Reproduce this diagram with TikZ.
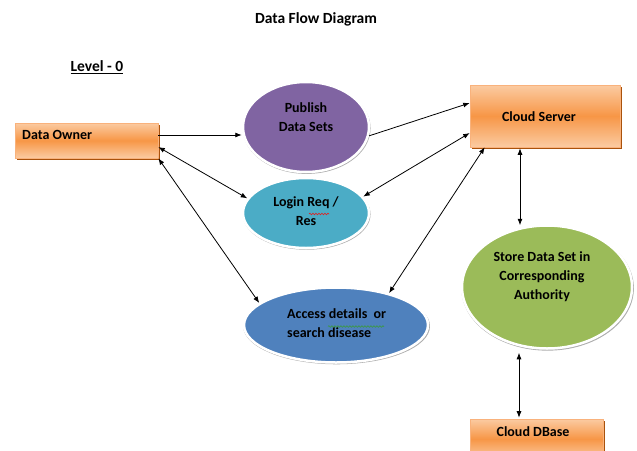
\documentclass[tikz,border=0pt]{standalone}
\usepackage{fontspec}
\setmainfont{Carlito}
\usetikzlibrary{shapes.geometric,shadows,arrows.meta,decorations.pathmorphing}

\definecolor{boxmid}{HTML}{F79646}
\definecolor{boxlight}{HTML}{FBCBA2}
\definecolor{boxedge}{HTML}{F9B27C}
\definecolor{boxshadow}{HTML}{A9520C}
\definecolor{purplefill}{HTML}{8064A2}
\definecolor{aquafill}{HTML}{4BACC6}
\definecolor{bluefill}{HTML}{4F81BD}
\definecolor{greenfill}{HTML}{9BBB59}
\definecolor{spellred}{HTML}{E02020}
\definecolor{spellgreen}{HTML}{3A9A3A}

\tikzset{
  procbox/.style={rectangle, inner sep=0pt, draw=boxedge, line width=0.6pt,
    top color=boxlight, bottom color=boxlight, middle color=boxmid,
    drop shadow={shadow xshift=2pt, shadow yshift=-2pt, fill=boxshadow, opacity=1}},
  proc/.style={ellipse, inner sep=0pt, draw=white, line width=2.5pt,
    drop shadow={shadow scale=1.015, shadow xshift=0.6pt, shadow yshift=-1.2pt, fill=black, opacity=0.32}},
  lbl/.style={font=\fontsize{14}{19}\selectfont\bfseries, inner sep=0pt, align=center},
  heading/.style={font=\fontsize{15.5}{18}\selectfont\bfseries, inner sep=0pt},
  flow/.style={-{Latex[length=6.5pt,width=5pt]}, line width=0.8pt},
  twoway/.style={{Latex[length=6.5pt,width=5pt]}-{Latex[length=6.5pt,width=5pt]}, line width=0.8pt},
  squiggle/.style={line width=0.6pt, decorate, decoration={snake, amplitude=0.8pt, segment length=3pt}},
}

\begin{document}
\begin{tikzpicture}[x=1pt,y=-1pt]
\useasboundingbox (0,0) rectangle (637,450);

% headings
\node[heading] (title) at (316,19) {Data Flow Diagram};
\node[heading] (level) at (97,67) {\underline{Level - 0}};

% external entities and stores
\node[procbox, minimum width=143pt, minimum height=35pt] (owner) at (86.5,140.5) {};
\node[lbl, anchor=west] (ownertxt) at (22,135) {Data Owner};

\node[procbox, minimum width=150pt, minimum height=62pt] (server) at (545,116) {};
\node[lbl] (servertxt) at (539,117) {Cloud Server};

\node[procbox, minimum width=133pt, minimum height=40pt] (dbase) at (536.5,439) {};
\node[lbl] (dbasetxt) at (533,432) {Cloud DBase};

% processes
\node[proc, fill=purplefill, minimum width=126pt, minimum height=90pt] (pub) at (306,127) {};
\node[lbl] (pubtxt) at ([yshift=9.5pt]pub.center) {Publish\\Data Sets};

\node[proc, fill=aquafill, minimum width=126pt, minimum height=70pt] (login) at (306,213) {};
\node[lbl] (logintxt) at ([yshift=2pt]login.center) {Login Req /\\Res};

\node[proc, fill=bluefill, minimum width=184pt, minimum height=75pt] (acc) at (336,325) {};
\node[lbl, align=left, anchor=west] (acctxt) at (287,323.5) {Access details\ \ or\\search disease};

\node[proc, fill=greenfill, minimum width=170pt, minimum height=123pt] (store) at (547,287) {};
\node[lbl] (storetxt) at (542,277) {Store Data Set in\\Corresponding\\Authority};

% proofing marks under words
\draw[squiggle, spellred] ([xshift=3pt,yshift=-3pt]logintxt.center) -- ++(20,0);
\draw[squiggle, spellgreen] ([xshift=41pt,yshift=-3pt]acctxt.west) -- ++(56,0);

% data flows
\draw[flow] ([yshift=5.5pt]owner.east) -- ([yshift=5.5pt]owner.east -| pub.west);
\draw[flow] (pub.-8) -- ([yshift=13pt]server.west);
\draw[twoway] ([yshift=-6.5pt]owner.east) -- (login.166);
\draw[twoway] (owner.south east) -- (acc.164);
\draw[twoway] ([yshift=-17pt]server.west) -- (login.16);
\draw[twoway] ([xshift=15pt]server.south west) -- (acc.31);
\draw[twoway] ([xshift=-25pt,yshift=-1pt]server.south) -- ([xshift=-25pt,yshift=-1pt]server.south |- store.north);
\draw[twoway] ([xshift=-28pt,yshift=-3pt]store.south) -- ([xshift=-28pt,yshift=1pt]store.south |- dbase.north);
\end{tikzpicture}
\end{document}
